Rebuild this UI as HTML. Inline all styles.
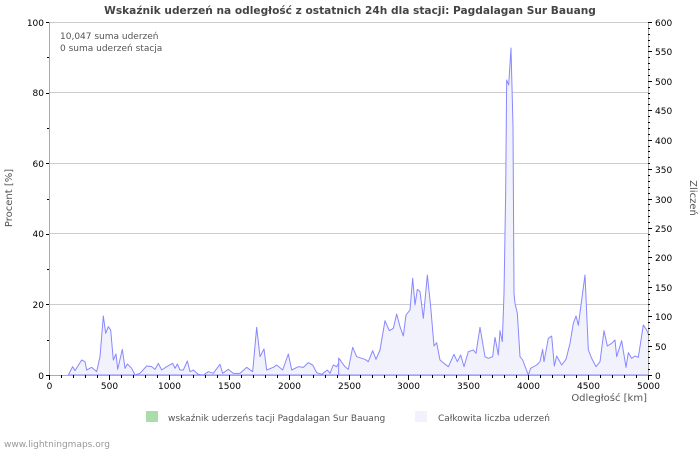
<!DOCTYPE html>
<html><head><meta charset="utf-8"><style>
body{margin:0;background:#fff;}
svg text{font-family:"DejaVu Sans","Liberation Sans",sans-serif;}
</style></head><body>
<svg width="700" height="450" viewBox="0 0 700 450" xmlns="http://www.w3.org/2000/svg">
<rect width="700" height="450" fill="#fff"/>
<text x="350" y="14" font-size="10.6" font-weight="bold" fill="#444" text-anchor="middle">Wskaźnik uderzeń na odległość z ostatnich 24h dla stacji: Pagdalagan Sur Bauang</text>
<g stroke="#ccc" stroke-width="1">
<line x1="49" y1="304.5" x2="648" y2="304.5"/>
<line x1="49" y1="233.5" x2="648" y2="233.5"/>
<line x1="49" y1="163.5" x2="648" y2="163.5"/>
<line x1="49" y1="92.5" x2="648" y2="92.5"/>
<line x1="49" y1="22.5" x2="648" y2="22.5"/>
</g>
<defs><clipPath id="c"><rect x="49" y="22" width="600" height="353.5"/></clipPath></defs>
<g clip-path="url(#c)">
<g transform="translate(40,280) scale(0.3333333)">
<path fill="#f2f2fc" stroke="#8888ff" stroke-width="3" stroke-linejoin="round" d="M85,285 L98,260 105,272 125,240 135,245 140,270 155,262 170,275 180,230 190,108 197,160 205,140 212,150 220,240 228,222 233,268 247,208 255,265 262,252 275,265 285,285 300,280 320,258 335,260 345,268 355,250 365,270 380,260 398,250 405,265 412,252 420,270 430,270 442,243 450,275 460,270 475,283 490,285 505,275 520,280 540,253 548,280 565,268 580,280 600,280 620,262 638,275 650,142 660,230 672,207 680,270 700,262 710,255 728,270 745,222 755,270 775,260 790,262 805,248 818,255 830,278 845,283 862,270 870,280 880,255 890,260 902,240 L902,285 Z"/>
</g>
<g transform="translate(340,260) scale(0.3333333)">
<path fill="#f2f2fc" stroke="#8888ff" stroke-width="3" stroke-linejoin="round" d="M-4,294 L0,300 15,320 25,328 38,262 50,290 65,295 75,298 85,305 98,272 108,298 120,270 135,182 148,212 160,205 170,162 180,200 190,228 198,165 210,150 218,55 225,135 232,88 240,95 250,175 262,45 272,140 282,258 290,248 300,300 312,310 325,320 342,283 352,305 362,285 372,320 385,275 400,270 408,280 420,202 435,290 445,295 458,290 465,232 475,285 480,212 487,245 492,100 497,-200 500,-540 506,-525 513,-636 519,-400 522,100 525,130 532,160 540,290 548,300 565,345 572,325 590,315 600,305 608,268 612,305 625,235 635,228 643,318 650,288 665,315 678,298 690,250 700,190 708,168 715,196 725,120 735,45 745,270 755,295 768,320 780,305 792,212 802,258 815,250 825,240 830,290 845,242 858,322 865,278 875,295 885,288 895,292 910,195 920,210 928,230 L928,345 L-4,345 Z"/>
</g>
</g>
<g stroke="#aaa" stroke-width="1" fill="none">
<line x1="49.5" y1="22" x2="49.5" y2="375"/>
<line x1="648.5" y1="22" x2="648.5" y2="375"/>
<line x1="49" y1="375.5" x2="649" y2="375.5"/>
</g>
<g stroke="#000" stroke-width="1" id="ticks"></g>
<g font-size="9" fill="#000" text-anchor="end">
<text x="44" y="379">0</text><text x="44" y="308">20</text><text x="44" y="237">40</text><text x="44" y="167">60</text><text x="44" y="96">80</text><text x="44" y="26">100</text>
</g>
<g font-size="9" fill="#000" text-anchor="start" id="rl"></g>
<g font-size="9" fill="#000" text-anchor="middle" id="bl"></g>
<text x="60" y="39" font-size="9" fill="#555">10,047 suma uderzeń</text>
<text x="60" y="51" font-size="9" fill="#555">0 suma uderzeń stacja</text>
<text x="12" y="198" font-size="10" fill="#555" text-anchor="middle" transform="rotate(-90 12 198)">Procent   [%]</text>
<text x="690" y="198" font-size="10" fill="#555" text-anchor="middle" transform="rotate(90 690 198)">Zliczeń</text>
<text x="647" y="401" font-size="10" fill="#555" text-anchor="end">Odległość   [km]</text>
<rect x="146" y="411" width="12" height="11" fill="#aaddaa"/>
<text x="168" y="421" font-size="9" fill="#555">wskaźnik uderzeńs tacji Pagdalagan Sur Bauang</text>
<rect x="415" y="411" width="12" height="11" fill="#f2f2fc"/>
<text x="438" y="421" font-size="9" fill="#555">Całkowita liczba uderzeń</text>
<text x="4" y="447" font-size="9" fill="#999">www.lightningmaps.org</text>
<script>
var t=document.getElementById('ticks'),rl=document.getElementById('rl'),bl=document.getElementById('bl'),ns='http://www.w3.org/2000/svg';
function L(x1,y1,x2,y2){var l=document.createElementNS(ns,'line');l.setAttribute('x1',x1);l.setAttribute('y1',y1);l.setAttribute('x2',x2);l.setAttribute('y2',y2);t.appendChild(l);}
function T(p,x,y,s){var e=document.createElementNS(ns,'text');e.setAttribute('x',x);e.setAttribute('y',y);e.textContent=s;p.appendChild(e);}
for(var i=0;i<=5;i++){var y=Math.round(375-i*70.6)+.5;L(46,y,49,y);if(i<5)L(47,Math.round(375-i*70.6-35.3)+.5,49,Math.round(375-i*70.6-35.3)+.5);}
for(var c=0;c<=600;c+=10){var y=Math.round(375-c*353/600)+.5;L(648,y,c%50==0?652:650,y);if(c%50==0)T(rl,655,y+3.5,c);}
for(var k=0;k<=5000;k+=100){var x=Math.round(49+k*599/5000)+.5;L(x,375,x,k%500==0?380:378);if(k%500==0)T(bl,x,389,k);}
</script>
</svg>
</body></html>
